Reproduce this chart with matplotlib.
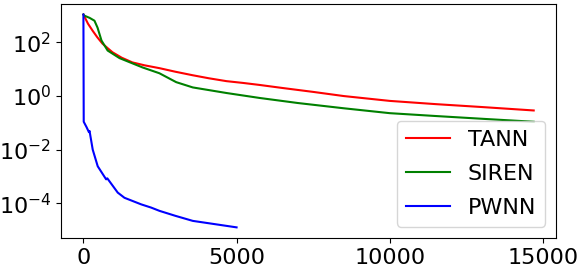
import matplotlib
matplotlib.use("Agg")
import matplotlib.pyplot as plt

# loss curves
tann_x = [0, 150, 300, 450, 620, 800, 950, 1250, 1600, 2000, 2480, 3000, 3560,
          4100, 4670, 5200, 5750, 6500, 7500, 8500, 10000, 11500, 13000, 14700]
tann_y = [1100, 500, 275, 158, 91, 60, 43, 27, 18, 14, 11, 8.1, 6.0,
          4.6, 3.6, 3.1, 2.6, 2.0, 1.43, 1.0, 0.66, 0.5, 0.39, 0.29]

siren_x = [0, 30, 200, 360, 460, 590, 790, 1180, 1930, 2480, 3030, 3570, 4670,
           5750, 7000, 8500, 10000, 11500, 13200, 14700]
siren_y = [1100, 1000, 830, 650, 360, 118, 50, 26, 11.7, 7.1, 3.3, 2.1, 1.3,
           0.85, 0.55, 0.35, 0.23, 0.18, 0.138, 0.11]

pwnn_x = [0, 10, 100, 180, 200, 304, 467, 742, 780, 1120, 1340, 1885, 2210,
          2484, 3000, 3570, 5000]
pwnn_y = [1100, 0.11, 0.07, 0.045, 0.05, 0.01, 2.4e-3, 7.8e-4, 8.5e-4, 2.5e-4,
          1.6e-4, 9.1e-5, 6.9e-5, 5.2e-5, 3.4e-5, 2.2e-5, 1.26e-5]

fig = plt.figure(figsize=(5.8, 2.7), dpi=100)
ax = fig.add_axes([0.105, 0.1185, 0.854, 0.867])

ax.plot(tann_x, tann_y, color='r', lw=1.5, label='TANN')
ax.plot(siren_x, siren_y, color='g', lw=1.5, label='SIREN')
ax.plot(pwnn_x, pwnn_y, color='b', lw=1.5, label='PWNN')

ax.set_yscale('log')
ax.set_yticks([1e-4, 1e-2, 1e0, 1e2])
ax.minorticks_off()
ax.set_xticks([0, 5000, 10000, 15000])
ax.tick_params(labelsize=16)
ax.legend(loc='lower right', fontsize=16, labelspacing=0.64)

fig.savefig('out.png', dpi=100)
